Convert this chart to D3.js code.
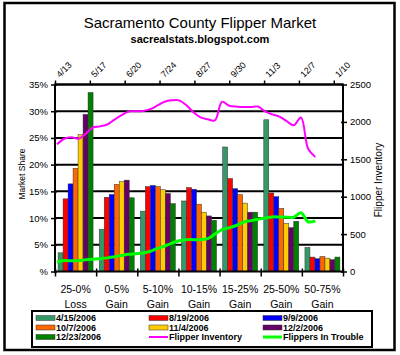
<!DOCTYPE html>
<html><head><meta charset="utf-8">
<script src="https://cdn.jsdelivr.net/npm/d3@7"></script>
<style>
body{margin:0;background:#fff}
svg{display:block}
text{font-family:"Liberation Sans",Arial,sans-serif;fill:#000}
</style>
</head><body>
<svg id="c" width="400" height="355"></svg>
<script>
// ---------- data ----------
const catLine1 = ["25-0%","0-5%","5-10%","10-15%","15-25%","25-50%","50-75%"];
const catLine2 = ["Loss","Gain","Gain","Gain","Gain","Gain","Gain"];
const seriesNames = ["4/15/2006","8/19/2006","9/9/2006","10/7/2006","11/4/2006","12/2/2006","12/23/2006"];
const seriesColors = ["#339966","#ff0000","#0000ff","#ff6600","#ffcc00","#660066","#008000"];
const s0415 = [3.5, 7.9, 11.3, 13.2, 23.3, 28.4, 4.5];
const s0819 = [13.6, 13.9, 15.9, 15.7, 17.4, 14.7, 2.7];
const s0909 = [16.4, 14.4, 16.1, 15.4, 15.5, 14.0, 2.4];
const s1007 = [19.3, 16.3, 15.9, 12.6, 14.4, 11.8, 2.8];
const s1104 = [25.6, 16.8, 15.3, 11.1, 12.8, 9.0, 2.5];
const s1202 = [29.4, 17.1, 14.6, 10.4, 11.1, 8.2, 2.2];
const s1223 = [33.5, 13.8, 12.7, 9.6, 11.1, 9.4, 2.7];
const seriesValues = [s0415, s0819, s0909, s1007, s1104, s1202, s1223];

const lineDates = ["2006-04-15","2006-04-22","2006-04-29","2006-05-06","2006-05-13","2006-05-20","2006-05-27",
  "2006-06-03","2006-06-10","2006-06-17","2006-06-24","2006-07-01","2006-07-08","2006-07-15","2006-07-22",
  "2006-07-29","2006-08-05","2006-08-12","2006-08-19","2006-08-26","2006-09-02","2006-09-09","2006-09-16",
  "2006-09-23","2006-09-30","2006-10-07","2006-10-14","2006-10-21","2006-10-28","2006-11-04","2006-11-11",
  "2006-11-18","2006-11-25","2006-12-02","2006-12-09","2006-12-16","2006-12-23"];
const flipperInventory = [1700,1775,1795,1775,1840,1925,1940,1965,2030,2090,2140,2143,2146,2170,2220,
  2270,2288,2288,2225,2130,2060,2035,2020,2270,2215,2205,2198,2200,2205,2140,2100,2070,2010,1955,2060,1640,1530];
const flippersInTrouble = [128,147,143,145,158,163,172,182,198,215,230,238,247,270,308,340,380,410,426,426,
  426,440,500,560,585,615,660,680,699,715,730,728,726,726,785,665,677];

const pctTicks = [0,5,10,15,20,25,30,35];
const invTicks = [0,500,1000,1500,2000,2500];
const dateTicks = ["2006-04-13","2006-05-17","2006-06-20","2006-07-24","2006-08-27","2006-09-30","2006-11-03","2006-12-07","2007-01-10"];
const dateTickLabels = ["4/13","5/17","6/20","7/24","8/27","9/30","11/3","12/7","1/10"];
const lineNames = ["Flipper Inventory","Flippers In Trouble"];
const lineColors = ["#ff00ff","#00ff00"];

// ---------- layout ----------
const svg = d3.select("#c");
const L = 55, R = 343, T = 84.5, B = 271.5;
const parse = d3.utcParse("%Y-%m-%d");

const xCat = d3.scaleBand().domain(d3.range(catLine1.length)).range([L, R]).padding(0);
const xEdge = d3.scaleLinear().domain([0, catLine1.length]).range([L, R]);
const xSer = d3.scaleBand().domain(d3.range(seriesNames.length))
  .range([xCat.bandwidth()*0.075, xCat.bandwidth()*0.925]).padding(0);
const yL = d3.scaleLinear().domain([0, 35]).range([B, T]);
const yR = d3.scaleLinear().domain([0, 2500]).range([B, T]);
const xT = d3.scaleUtc().domain([parse("2006-04-13"), parse("2007-01-19")]).range([L, R]);

// frame
svg.append("rect").attr("x",4.5).attr("y",3).attr("width",390).attr("height",347)
  .attr("fill","#fff").attr("stroke","#000").attr("stroke-width",2.5);

// title
svg.append("text").attr("x",200).attr("y",28).attr("text-anchor","middle")
  .style("font-size","15px").text("Sacramento County Flipper Market");
svg.append("text").attr("x",200).attr("y",43).attr("text-anchor","middle")
  .style("font-size","11px").style("font-weight","bold").text("sacrealstats.blogspot.com");

// gridlines
svg.append("g").selectAll("line").data(pctTicks.filter(d=>d>0)).join("line")
  .attr("x1",L).attr("x2",R).attr("y1",d=>yL(d)).attr("y2",d=>yL(d))
  .attr("stroke","#000").attr("stroke-width",2);

// bars
const gBars = svg.append("g");
seriesValues.forEach((vals, si) => {
  gBars.append("g").selectAll("rect").data(vals).join("rect")
    .attr("x",(d,i)=>xCat(i)+xSer(si))
    .attr("width",xSer.bandwidth())
    .attr("y",d=>yL(d))
    .attr("height",d=>yL(0)-yL(d))
    .attr("fill",seriesColors[si])
    .attr("stroke","#333").attr("stroke-width",0.5);
});

// lines
const lineGen = (vals) => d3.line()
  .x((d,i)=>xT(parse(lineDates[i])))
  .y(d=>yR(d))
  .curve(d3.curveCatmullRom.alpha(0.5))(vals);
svg.append("path").attr("d",lineGen(flipperInventory)).attr("fill","none")
  .attr("stroke",lineColors[0]).attr("stroke-width",2);
svg.append("path").attr("d",lineGen(flippersInTrouble)).attr("fill","none")
  .attr("stroke",lineColors[1]).attr("stroke-width",3);

// axes
function styleAxis(g){
  g.select(".domain").remove();
  g.selectAll(".tick line").attr("stroke","#000").attr("stroke-width",1.5);
  g.selectAll(".tick text").style("font-size","9.5px").style("font-family",'"Liberation Sans",Arial,sans-serif');
}
const gl = svg.append("g").attr("transform",`translate(${L},0)`)
  .call(d3.axisLeft(yL).tickValues(pctTicks).tickFormat(d=>d===0?"%":d+"%").tickSize(4).tickPadding(3));
styleAxis(gl); gl.selectAll(".tick line").attr("x1",2);
const gr = svg.append("g").attr("transform",`translate(${R},0)`)
  .call(d3.axisRight(yR).tickValues(invTicks).tickFormat(d3.format("d")).tickSize(4).tickPadding(3));
styleAxis(gr); gr.selectAll(".tick line").attr("x1",-2);
const gb = svg.append("g").attr("transform",`translate(0,${B})`)
  .call(d3.axisBottom(xEdge).tickValues(d3.range(catLine1.length+1)).tickFormat("").tickSize(5));
styleAxis(gb); gb.selectAll(".tick line").attr("y1",-3);
const gt = svg.append("g").attr("transform",`translate(0,${T})`)
  .call(d3.axisTop(xT).tickValues(dateTicks.map(parse)).tickFormat("").tickSize(4));
styleAxis(gt);

// axis lines
const axl = svg.append("g").attr("stroke","#000").attr("stroke-width",2);
axl.append("line").attr("x1",L).attr("x2",L).attr("y1",T).attr("y2",B+1);
axl.append("line").attr("x1",R).attr("x2",R).attr("y1",T).attr("y2",B+1);
axl.append("line").attr("x1",L-1).attr("x2",R+1).attr("y1",B).attr("y2",B);
axl.append("line").attr("x1",L-1).attr("x2",R+1).attr("y1",T).attr("y2",T);

// top date labels
svg.append("g").selectAll("text").data(dateTickLabels).join("text")
  .attr("transform",(d,i)=>`translate(${xT(parse(dateTicks[i]))+5},78) rotate(-45)`)
  .style("font-size","9px").text(d=>d);

// category labels
const gc = svg.append("g").style("font-size","10.5px").attr("text-anchor","middle");
gc.selectAll("text.l1").data(catLine1).join("text").attr("class","l1")
  .attr("x",(d,i)=>xCat(i)+xCat.bandwidth()/2).attr("y",293).text(d=>d);
gc.selectAll("text.l2").data(catLine2).join("text").attr("class","l2")
  .attr("x",(d,i)=>xCat(i)+xCat.bandwidth()/2).attr("y",308).text(d=>d);

// axis titles
svg.append("text").attr("transform","translate(25,174) rotate(-90)").attr("text-anchor","middle")
  .style("font-size","8.5px").text("Market Share");
svg.append("text").attr("transform","translate(382,180) rotate(-90)").attr("text-anchor","middle")
  .style("font-size","10px").text("Flipper Inventory");

// legend
svg.append("rect").attr("x",32).attr("y",311).attr("width",340).attr("height",36)
  .attr("fill","#fff").attr("stroke","#000").attr("stroke-width",2);
const legItems = seriesNames.map((n,i)=>({name:n,color:seriesColors[i],type:"bar"}))
  .concat(lineNames.map((n,i)=>({name:n,color:lineColors[i],type:"line"})));
const colX = [36,149,263], rowY = [318,327.5,337];
const lg = svg.append("g");
legItems.forEach((it, i) => {
  const cx = colX[i%3], cy = rowY[Math.floor(i/3)];
  if (it.type==="bar") {
    lg.append("rect").attr("x",cx).attr("y",cy-2.5).attr("width",19).attr("height",5)
      .attr("fill",it.color).attr("stroke","#333").attr("stroke-width",0.5);
  } else {
    lg.append("line").attr("x1",cx).attr("x2",cx+19).attr("y1",cy).attr("y2",cy)
      .attr("stroke",it.color).attr("stroke-width",it.name==="Flippers In Trouble"?3:2);
  }
  lg.append("text").attr("x",cx+20).attr("y",cy+3.3).style("font-size","9px")
    .style("font-weight","bold").text(it.name);
});
</script>
</body></html>
